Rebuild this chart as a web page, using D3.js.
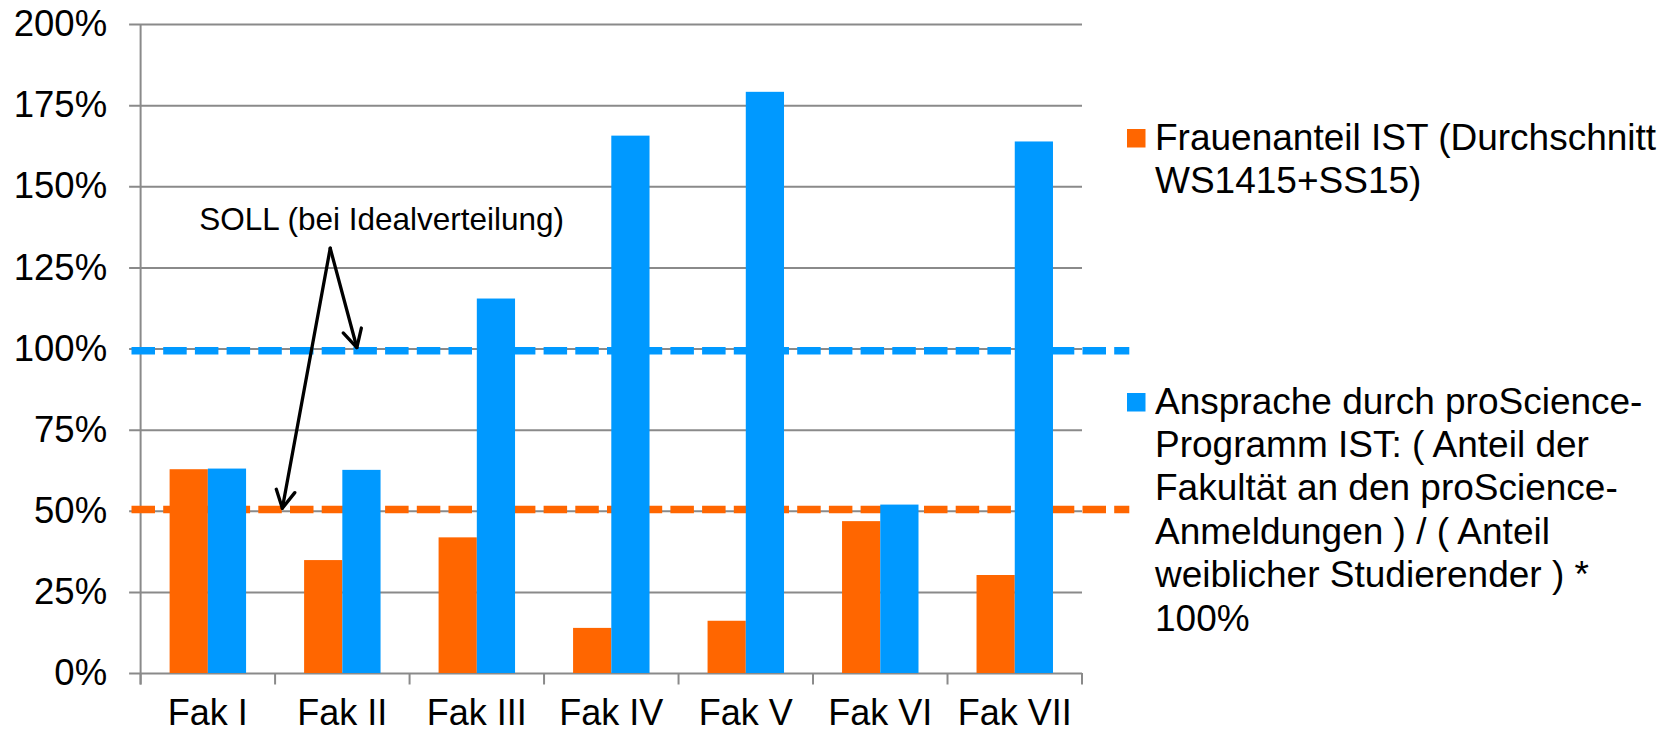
<!DOCTYPE html>
<html>
<head>
<meta charset="utf-8">
<script src="https://cdn.jsdelivr.net/npm/d3@7"></script>
<style>
  html, body { margin: 0; padding: 0; background: #fff; }
  svg { display: block; font-family: "Liberation Sans", Arial, sans-serif; }
</style>
</head>
<body>
<svg id="chart" width="1676" height="733"></svg>
<script>
// ---- data ----
const categories = ["Fak I", "Fak II", "Fak III", "Fak IV", "Fak V", "Fak VI", "Fak VII"];
const frauenanteil = [62.8, 34.8, 41.8, 13.9, 16.1, 46.8, 30.2];
const ansprache = [63.0, 62.6, 115.4, 165.6, 179.1, 51.9, 163.8];
const sollFrauen = 50.4;
const sollAnsprache = 99.3;
const yTicks = [0, 25, 50, 75, 100, 125, 150, 175, 200];
const seriesNames = [
  ["Frauenanteil IST (Durchschnitt", "WS1415+SS15)"],
  ["Ansprache durch proScience-", "Programm IST: ( Anteil der", "Fakultät an den proScience-", "Anmeldungen ) / ( Anteil", "weiblicher Studierender ) *", "100%"]
];
const annotationText = "SOLL (bei Idealverteilung)";
// annotation anchors in data units (category position, value)
const annApex = { c: 1.41, v: 130.9 };
const annTips = [{ c: 1.608, v: 100.3 }, { c: 1.054, v: 50.75 }];

const colors = ["#FF6600", "#0099FF"];
const gridColor = "#8a8a8a";

(function () {
// ---- layout ----
const pLeft = 140.6, pRight = 1082, pTop = 24, pBottom = 673;
const svg = d3.select("#chart");

const x0 = d3.scaleBand().domain(categories).range([pLeft, pRight]).padding(0);
const x1 = d3.scaleBand().domain([0, 1]).range([0, x0.bandwidth()]).paddingInner(0).paddingOuter(0.759);
const y = d3.scaleLinear().domain([0, 200]).range([pBottom, pTop]);
const xc = c => pLeft + c * x0.step();

// ---- y axis with gridlines ----
const yAxis = d3.axisLeft(y)
  .tickValues(yTicks)
  .tickFormat(d => d + "%")
  .tickSizeInner(-(pRight - pLeft))
  .tickSizeOuter(0)
  .tickPadding(33.5);
const gy = svg.append("g").attr("transform", `translate(${pLeft},0)`).call(yAxis);
gy.select(".domain").remove();
gy.selectAll(".tick line").attr("x1", -11.5).attr("stroke", gridColor).attr("stroke-width", 2);
gy.selectAll(".tick text")
  .attr("fill", "#000")
  .style("font-size", "36.5px")
  .style("font-family", "'Liberation Sans', Arial, sans-serif");

// vertical axis line
svg.append("line")
  .attr("x1", pLeft).attr("x2", pLeft)
  .attr("y1", y(200)).attr("y2", pBottom + 11.5)
  .attr("stroke", gridColor).attr("stroke-width", 2);

// category boundary ticks
const boundaries = categories.map(c => x0(c)).concat([pRight]);
svg.append("g").selectAll("line").data(boundaries).join("line")
  .attr("x1", d => d).attr("x2", d => d)
  .attr("y1", pBottom).attr("y2", pBottom + 11.5)
  .attr("stroke", gridColor).attr("stroke-width", 2);

// x labels
const xAxis = d3.axisBottom(x0).tickSize(0).tickPadding(26);
const gx = svg.append("g").attr("transform", `translate(0,${pBottom})`).call(xAxis);
gx.select(".domain").remove();
gx.selectAll(".tick text")
  .attr("fill", "#000")
  .style("font-size", "36px")
  .style("font-family", "'Liberation Sans', Arial, sans-serif");

// ---- SOLL dashed lines (behind bars) ----
const sollVals = [sollFrauen, sollAnsprache];
svg.append("g").selectAll("line").data(sollVals).join("line")
  .attr("x1", 131.5).attr("x2", 1129.3)
  .attr("y1", d => y(d)).attr("y2", d => y(d))
  .attr("stroke", (d, i) => colors[i])
  .attr("stroke-width", 7.5)
  .attr("stroke-dasharray", "23.5 8.2");

// ---- bars ----
const series = [frauenanteil, ansprache];
const gBars = svg.append("g");
series.forEach((vals, si) => {
  gBars.selectAll(".bar" + si).data(vals).join("rect")
    .attr("class", "bar" + si)
    .attr("x", (d, i) => x0(categories[i]) + x1(si))
    .attr("width", x1.bandwidth())
    .attr("y", d => y(d))
    .attr("height", d => y(0) - y(d))
    .attr("fill", colors[si]);
});

// ---- legend ----
const legendX = 1127, legendTextX = 1155, lineH = 43.4;
const legendFirstBaseline = [149.5, 413.5];
seriesNames.forEach((lines, si) => {
  const g = svg.append("g");
  g.append("rect")
    .attr("x", legendX).attr("y", legendFirstBaseline[si] - 20.5)
    .attr("width", 18.5).attr("height", 18.5)
    .attr("fill", colors[si]);
  const t = g.append("text")
    .attr("x", legendTextX).attr("y", legendFirstBaseline[si])
    .attr("fill", "#000")
    .style("font-size", "37px");
  lines.forEach((ln, li) => {
    t.append("tspan").attr("x", legendTextX).attr("y", legendFirstBaseline[si] + li * lineH).text(ln);
  });
});

// ---- annotation ----
svg.append("text")
  .attr("x", 381.7).attr("y", 230)
  .attr("text-anchor", "middle")
  .attr("fill", "#000")
  .style("font-size", "31.5px")
  .text(annotationText);

const ax = xc(annApex.c), ay = y(annApex.v);
const gA = svg.append("g").attr("stroke", "#000").attr("stroke-width", 3.3)
  .attr("fill", "none").attr("stroke-linecap", "round").attr("stroke-linejoin", "round");
annTips.forEach(tp => {
  const tx = xc(tp.c), ty = y(tp.v);
  gA.append("line").attr("x1", ax).attr("y1", ay).attr("x2", tx).attr("y2", ty);
  const ang = Math.atan2(ay - ty, ax - tx);
  const L = 20, a = 28 * Math.PI / 180;
  const p1 = [tx + L * Math.cos(ang + a), ty + L * Math.sin(ang + a)];
  const p2 = [tx + L * Math.cos(ang - a), ty + L * Math.sin(ang - a)];
  gA.append("path").attr("d", `M${p1[0]},${p1[1]}L${tx},${ty}L${p2[0]},${p2[1]}`);
});
})();
</script>
</body>
</html>
